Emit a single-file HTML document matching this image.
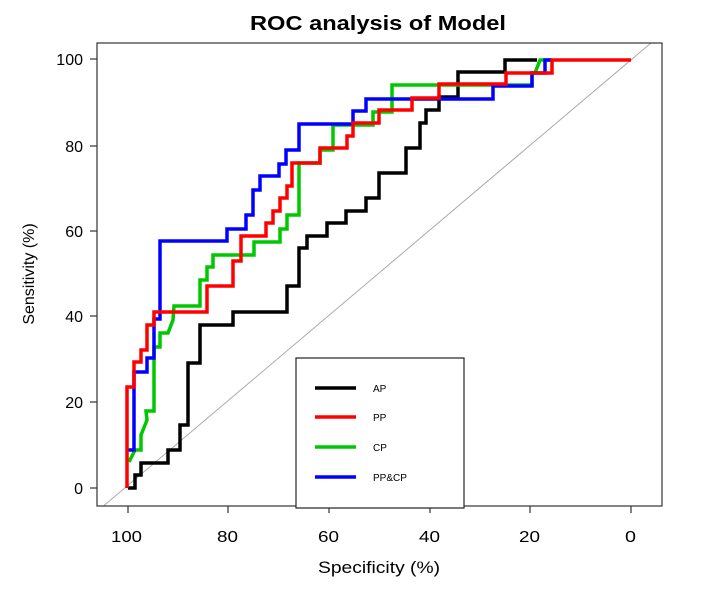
<!DOCTYPE html>
<html><head><style>body{margin:0;background:#fff}svg{display:block}</style></head><body>
<svg width="712" height="589" xmlns="http://www.w3.org/2000/svg" font-family="Liberation Sans, Arial, sans-serif">
<text x="250" y="30" font-size="20" font-weight="bold" textLength="256" lengthAdjust="spacingAndGlyphs">ROC analysis of Model</text>
<line x1="103.5" y1="506" x2="651" y2="43" stroke="#aaa" stroke-width="1"/>
<g fill="none" stroke-width="3.5" stroke-linejoin="miter">
<polyline stroke="#000" points="128,488 135,488 135,475 141,475 141,463 168,463 168,450 180,450 180,425 188,425 188,363 200,363 200,325 233,325 233,312 287,312 287,286 299,286 299,248 307,248 307,236 327,236 327,223 346,223 346,211 366,211 366,198 379,198 379,173 406,173 406,148 420,148 420,123 426,123 426,110 439,110 439,97 458,97 458,72 505,72 505,60 537,60"/>
<polyline stroke="#00c800" points="129,462 135,450 141,450 141,435 147,420 146,411 154,411 154,347 160,347 160,333 168,333 173,320 174,306 200,306 200,280 207,280 207,267 213,267 213,255 254,255 254,242 280,242 280,229 287,229 287,215 299,215 299,163 320,163 320,150 333,150 333,125 373,125 373,112 392,112 392,85 532,85 532,73 535,73 540,60 552,60"/>
<polyline stroke="#0000ff" points="128,450 134,450 134,372 147,372 147,358 154,358 154,319 160,319 160,241 227,241 227,229 246,229 246,215 253,215 253,190 260,190 260,176 279,176 279,164 286,164 286,150 299,150 299,124 353,124 353,111 366,111 366,99 493,99 493,86 532,86 532,73 545,73 545,60 552,60"/>
<polyline stroke="#ff0000" points="127,488 127,387 134,387 134,362 141,362 141,350 147,350 147,325 154,325 154,312 207,312 207,286 233,286 233,261 241,261 241,236 266,236 266,223 273,223 273,211 280,211 280,198 287,198 287,186 292,186 292,163 320,163 320,148 347,148 347,136 353,136 353,123 379,123 379,110 412,110 412,98 439,98 439,84 506,84 506,73 552,73 552,60 631,60"/>
</g>
<rect x="97" y="43" width="565" height="463" fill="none" stroke="#333" stroke-width="1.2"/>
<g stroke="#333" stroke-width="1.2">
<line x1="90" y1="59" x2="97" y2="59"/><line x1="90" y1="146" x2="97" y2="146"/><line x1="90" y1="231" x2="97" y2="231"/><line x1="90" y1="316" x2="97" y2="316"/><line x1="90" y1="402" x2="97" y2="402"/><line x1="90" y1="488" x2="97" y2="488"/>
<line x1="128" y1="506" x2="128" y2="513"/><line x1="228" y1="506" x2="228" y2="513"/><line x1="329" y1="506" x2="329" y2="513"/><line x1="430" y1="506" x2="430" y2="513"/><line x1="530" y1="506" x2="530" y2="513"/><line x1="631" y1="506" x2="631" y2="513"/>
</g>
<g font-size="16" text-anchor="end">
<text x="83" y="65">100</text><text x="83" y="152">80</text><text x="83" y="237">60</text><text x="83" y="322">40</text><text x="83" y="408">20</text><text x="83" y="494">0</text>
</g>
<g font-size="16">
<text x="111" y="542" textLength="31" lengthAdjust="spacingAndGlyphs">100</text><text x="217" y="542" textLength="21" lengthAdjust="spacingAndGlyphs">80</text><text x="318" y="542" textLength="21" lengthAdjust="spacingAndGlyphs">60</text><text x="419" y="542" textLength="21" lengthAdjust="spacingAndGlyphs">40</text><text x="519" y="542" textLength="21" lengthAdjust="spacingAndGlyphs">20</text><text x="625" y="542" textLength="11" lengthAdjust="spacingAndGlyphs">0</text>
</g>
<text x="318" y="573" font-size="17" textLength="122" lengthAdjust="spacingAndGlyphs">Specificity (%)</text>
<text transform="translate(34,274) rotate(-90)" font-size="16" text-anchor="middle">Sensitivity (%)</text>
<rect x="296" y="358" width="168" height="150" fill="#fff" stroke="#222" stroke-width="1.2"/>
<g stroke-width="3.5">
<line x1="315" y1="388" x2="356" y2="388" stroke="#000"/>
<line x1="315" y1="417" x2="356" y2="417" stroke="#ff0000"/>
<line x1="315" y1="447" x2="356" y2="447" stroke="#00c800"/>
<line x1="315" y1="477" x2="356" y2="477" stroke="#0000ff"/>
</g>
<g font-size="10">
<text x="373" y="392">AP</text><text x="373" y="421">PP</text><text x="373" y="451">CP</text><text x="373" y="481">PP&amp;CP</text>
</g>
</svg>
</body></html>
